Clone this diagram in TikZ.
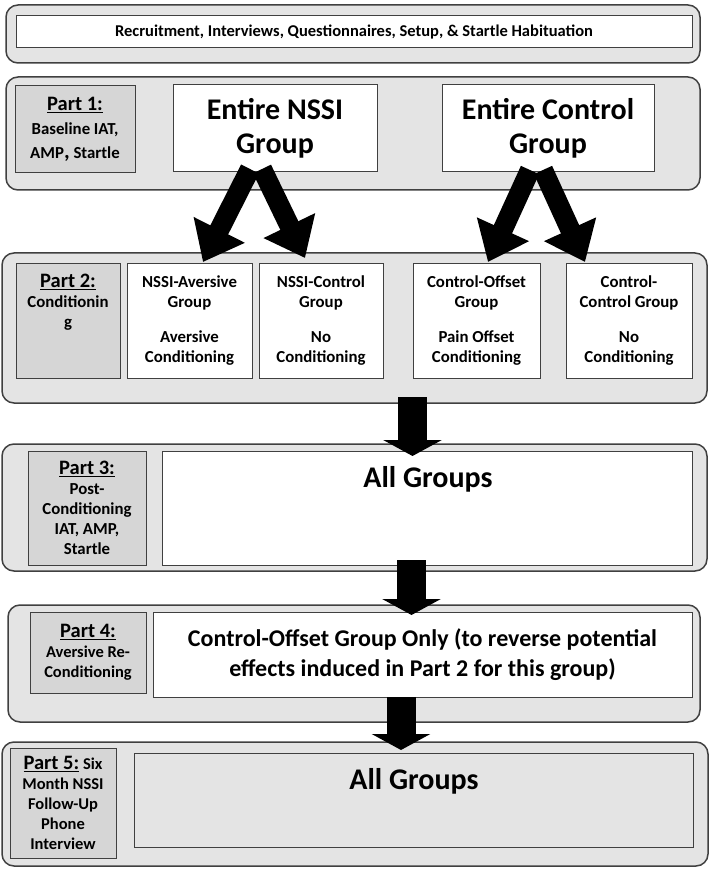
\documentclass[tikz,border=0pt]{standalone}
\usepackage{fontspec}
\setmainfont{Carlito}
\usetikzlibrary{arrows.meta,calc}
\definecolor{panelfill}{HTML}{E4E4E4}
\definecolor{labfill}{HTML}{D6D6D6}
\definecolor{edgegray}{HTML}{404040}
\newcommand\fsz[2]{\bfseries\fontsize{#1}{#2}\selectfont}
\begin{document}
\begin{tikzpicture}[x=1pt,y=-1pt,
  every node/.style={inner sep=0pt, outer sep=0pt},
  panel/.style={draw=edgegray, line width=1.5pt, fill=panelfill, rounded corners=12pt, rectangle},
  labbox/.style={draw=edgegray, line width=1pt, fill=labfill, align=center},
  whitebox/.style={draw=edgegray, line width=1pt, fill=white, align=center},
  subbox/.style={whitebox, minimum height=114, font=\fsz{16.8}{20}},
  fatdown/.style={line width=29pt, -{Triangle[length=16pt,width=58pt]}},
  fork/.style={line width=20pt, -{Triangle[length=36pt,width=55pt]}},
  bigtext/.style={font=\fsz{30}{34}, align=center},
]
\useasboundingbox (0,0) rectangle (711,882);

% Top panel
\node[panel, minimum width=694, minimum height=58] (p0) at (353,34) {};
\node[whitebox, minimum width=676, minimum height=32, font=\fsz{16.5}{18}] (recruit) at (354,32)
  {Recruitment, Interviews, Questionnaires, Setup, \& Startle Habituation};

% Part 1
\node[panel, minimum width=694, minimum height=113] (p1) at (353,133.5) {};
\node[labbox, minimum width=120, minimum height=87, font=\fsz{16.8}{24}] (lab1) at (75,129.5)
  {{\fsz{20.5}{22}\underline{Part 1:}}\\Baseline IAT,\\AMP{\fsz{22}{22},} Startle};
\node[whitebox, minimum width=204, minimum height=87, font=\fsz{30}{34}] (nssi) at (275,128.5) {Entire NSSI\\Group};
\node[whitebox, minimum width=212, minimum height=87, font=\fsz{30}{34}] (ctrl) at (548,128.5) {Entire Control\\Group};

% Part 2
\node[panel, minimum width=705, minimum height=150] (p2) at (354.5,328) {};
\node[labbox, minimum width=104, minimum height=114] (lab2) at (68,321) {};
\node[font=\fsz{16.8}{20}, align=center, anchor=north] (lab2t) at ($(lab2.north)+(0,10)$)
  {{\fsz{20.5}{22}\underline{Part 2:}}\\Conditionin\\g};
\node[subbox, minimum width=125] (av) at (189.5,321) {NSSI-Aversive\\Group\\[15pt]Aversive\\Conditioning};
\node[subbox, minimum width=124] (nc) at (321,321) {NSSI-Control\\Group\\[15pt]No\\Conditioning};
\node[subbox, minimum width=127] (co) at (476.5,321) {Control-Offset\\Group\\[15pt]Pain Offset\\Conditioning};
\node[subbox, minimum width=126] (cc) at (629,321) {Control-\\Control Group\\[15pt]No\\Conditioning};

% Part 3
\node[panel, minimum width=705, minimum height=127] (p3) at (354.5,507.5) {};
\node[labbox, minimum width=118, minimum height=114, font=\fsz{16.8}{20}] (lab3) at (87,508)
  {{\fsz{20.5}{22}\underline{Part 3:}}\\Post-\\Conditioning\\IAT, AMP,\\Startle};
\node[whitebox, minimum width=530, minimum height=114] (all3) at (427,508) {};
\node[bigtext, anchor=base] (all3t) at (428,487) {All Groups};

% Part 4
\node[panel, minimum width=692, minimum height=117] (p4) at (354,663.5) {};
\node[labbox, minimum width=116, minimum height=81, font=\fsz{16.5}{20}] (lab4) at (88,652.5)
  {{\fsz{20.5}{22}\underline{Part 4:}}\\Aversive Re-\\Conditioning};
\node[whitebox, minimum width=539, minimum height=85, font=\fsz{24}{30}] (co4) at (422.5,654.5)
  {Control-Offset Group Only (to reverse potential\\effects induced in Part 2 for this group)};

% Part 5
\node[panel, minimum width=706, minimum height=124] (p5) at (355,804) {};
\node[labbox, minimum width=106, minimum height=110, font=\fsz{16.5}{20}] (lab5) at (63,803)
  {{\fsz{20.5}{22}\underline{Part 5:}} Six\\Month NSSI\\Follow-Up\\Phone\\Interview};
\node[draw=edgegray, line width=1pt, fill=panelfill, minimum width=559, minimum height=94] (all5) at (413.5,800) {};
\node[bigtext, anchor=base] (all5t) at (414,789) {All Groups};

% Fork arrows
\draw[fork] ($(nssi.south)+(-25,-3)$) -- ($(av.north)+(13.5,-2)$);
\draw[fork] ($(nssi.south)+(-13,-3)$) -- ($(nc.north)+(-16,-6)$);
\draw[fork] ($(ctrl.south)+(-18,-2)$) -- ($(co.north)+(11.5,-2)$);
\draw[fork] ($(ctrl.south)+(-5,-2)$) -- ($(cc.north)+(-44,-2)$);

% Straight arrows
\draw[fatdown] ($(p2.south)+(58,-6)$) -- ($(all3.north)+(-14.5,5)$);
\draw[fatdown] ($(all3.south)+(-15.5,-5)$) -- ($(co4.north)+(-11,3)$);
\draw[fatdown] ($(co4.south)+(-21.5,0)$) -- ($(all5.north)+(-12.5,-3)$);
\end{tikzpicture}
\end{document}
